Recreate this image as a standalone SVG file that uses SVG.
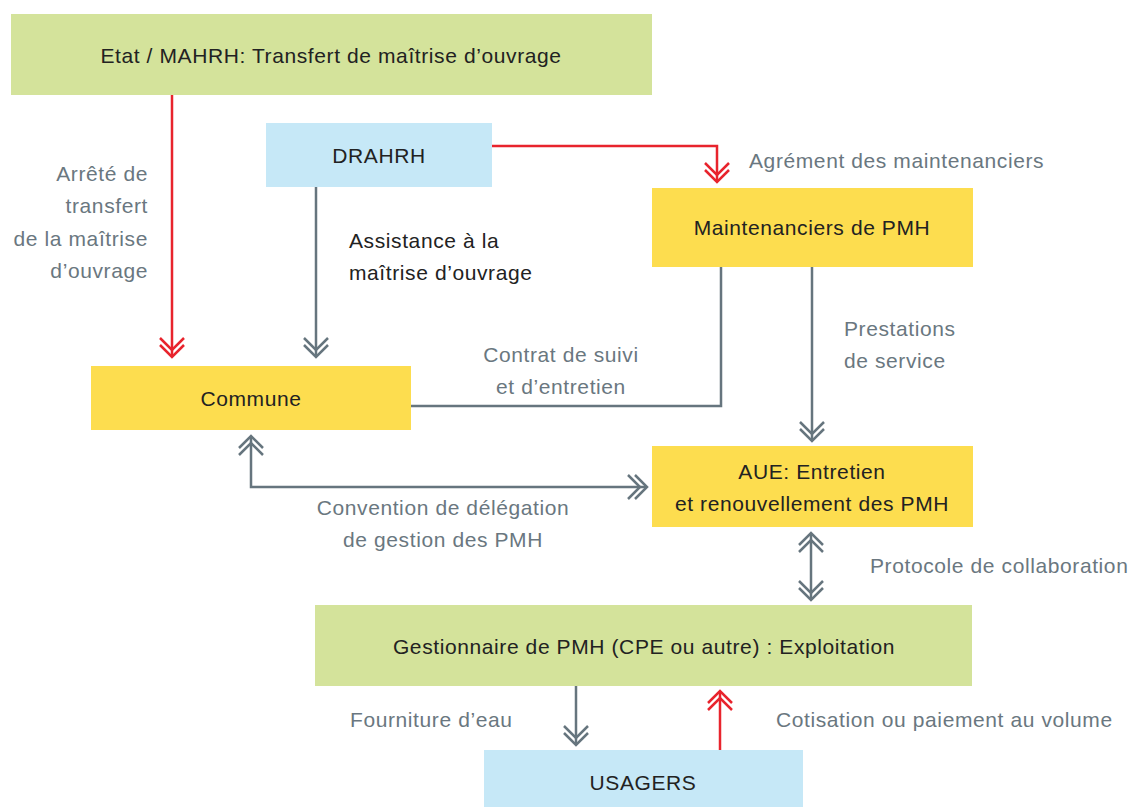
<svg xmlns="http://www.w3.org/2000/svg" width="1134" height="807" viewBox="0 0 1134 807">
<style>
.t{font-family:"Liberation Sans",Arial,sans-serif;font-size:21px;letter-spacing:0.6px}
.box{fill:#222}
.lbl{fill:#6a7780}
.g{stroke:#66757e;stroke-width:2.5;fill:none}
.r{stroke:#e8242d;stroke-width:2.5;fill:none}
</style>
<defs>
<marker id="ag" viewBox="-20 -15 22 30" markerWidth="22" markerHeight="30" refX="0" refY="0" markerUnits="userSpaceOnUse" orient="auto-start-reverse">
<path d="M-12,-12 L0,0 L-12,12 M-19,-12 L-7,0 L-19,12" fill="none" stroke="#66757e" stroke-width="2.5"/>
</marker>
<marker id="ar" viewBox="-20 -15 22 30" markerWidth="22" markerHeight="30" refX="0" refY="0" markerUnits="userSpaceOnUse" orient="auto-start-reverse">
<path d="M-12,-12 L0,0 L-12,12 M-19,-12 L-7,0 L-19,12" fill="none" stroke="#e8242d" stroke-width="2.5"/>
</marker>
</defs>
<rect width="1134" height="807" fill="#fff"/>
<g id="connectors">
<path class="r" d="M172,95 V357" marker-end="url(#ar)"/>
<path class="g" d="M316,187 V357" marker-end="url(#ag)"/>
<path class="r" d="M492,146 H717 V182" marker-end="url(#ar)"/>
<path class="g" d="M721,267 V406 H411"/>
<path class="g" d="M812,267 V441" marker-end="url(#ag)"/>
<path class="g" d="M251,436 V487 H647" marker-start="url(#ag)" marker-end="url(#ag)"/>
<path class="g" d="M811,533 V600" marker-start="url(#ag)" marker-end="url(#ag)"/>
<path class="g" d="M576,686 V745" marker-end="url(#ag)"/>
<path class="r" d="M720,750 V691" marker-end="url(#ar)"/>
</g>
<g id="etat"><rect x="11" y="14" width="641" height="81" fill="#d4e39b"/><text class="t box" x="331" y="63" text-anchor="middle">Etat / MAHRH: Transfert de maîtrise d’ouvrage</text></g>
<g id="drahrh"><rect x="266" y="123" width="226" height="64" fill="#c6e8f7"/><text class="t box" x="379" y="163" text-anchor="middle">DRAHRH</text></g>
<g id="maintenanciers"><rect x="652" y="188" width="321" height="79" fill="#fddd4f"/><text class="t box" x="812" y="235" text-anchor="middle">Maintenanciers de PMH</text></g>
<g id="commune"><rect x="91" y="366" width="320" height="64" fill="#fddd4f"/><text class="t box" x="251" y="406" text-anchor="middle">Commune</text></g>
<g id="aue"><rect x="652" y="446" width="321" height="81" fill="#fddd4f"/><text class="t box" x="812" y="479" text-anchor="middle">AUE: Entretien</text><text class="t box" x="812" y="511" text-anchor="middle">et renouvellement des PMH</text></g>
<g id="gestionnaire"><rect x="315" y="605" width="657" height="81" fill="#d4e39b"/><text class="t box" x="644" y="654" text-anchor="middle">Gestionnaire de PMH (CPE ou autre) : Exploitation</text></g>
<g id="usagers"><rect x="484" y="750" width="319" height="57" fill="#c6e8f7"/><text class="t box" x="643" y="790" text-anchor="middle">USAGERS</text></g>
<g id="labels">
<text class="t lbl" text-anchor="end"><tspan x="148" y="181">Arrêté de</tspan><tspan x="148" y="213">transfert</tspan><tspan x="148" y="246">de la maîtrise</tspan><tspan x="148" y="278">d’ouvrage</tspan></text>
<text class="t box"><tspan x="349" y="248">Assistance à la</tspan><tspan x="349" y="280">maîtrise d’ouvrage</tspan></text>
<text class="t lbl" x="749" y="168">Agrément des maintenanciers</text>
<text class="t lbl"><tspan x="844" y="336">Prestations</tspan><tspan x="844" y="368">de service</tspan></text>
<text class="t lbl" text-anchor="middle"><tspan x="561" y="362">Contrat de suivi</tspan><tspan x="561" y="394">et d’entretien</tspan></text>
<text class="t lbl" text-anchor="middle"><tspan x="443" y="515">Convention de délégation</tspan><tspan x="443" y="547">de gestion des PMH</tspan></text>
<text class="t lbl" x="870" y="573">Protocole de collaboration</text>
<text class="t lbl" x="350" y="727">Fourniture d’eau</text>
<text class="t lbl" x="776" y="727">Cotisation ou paiement au volume</text>
</g>
</svg>
